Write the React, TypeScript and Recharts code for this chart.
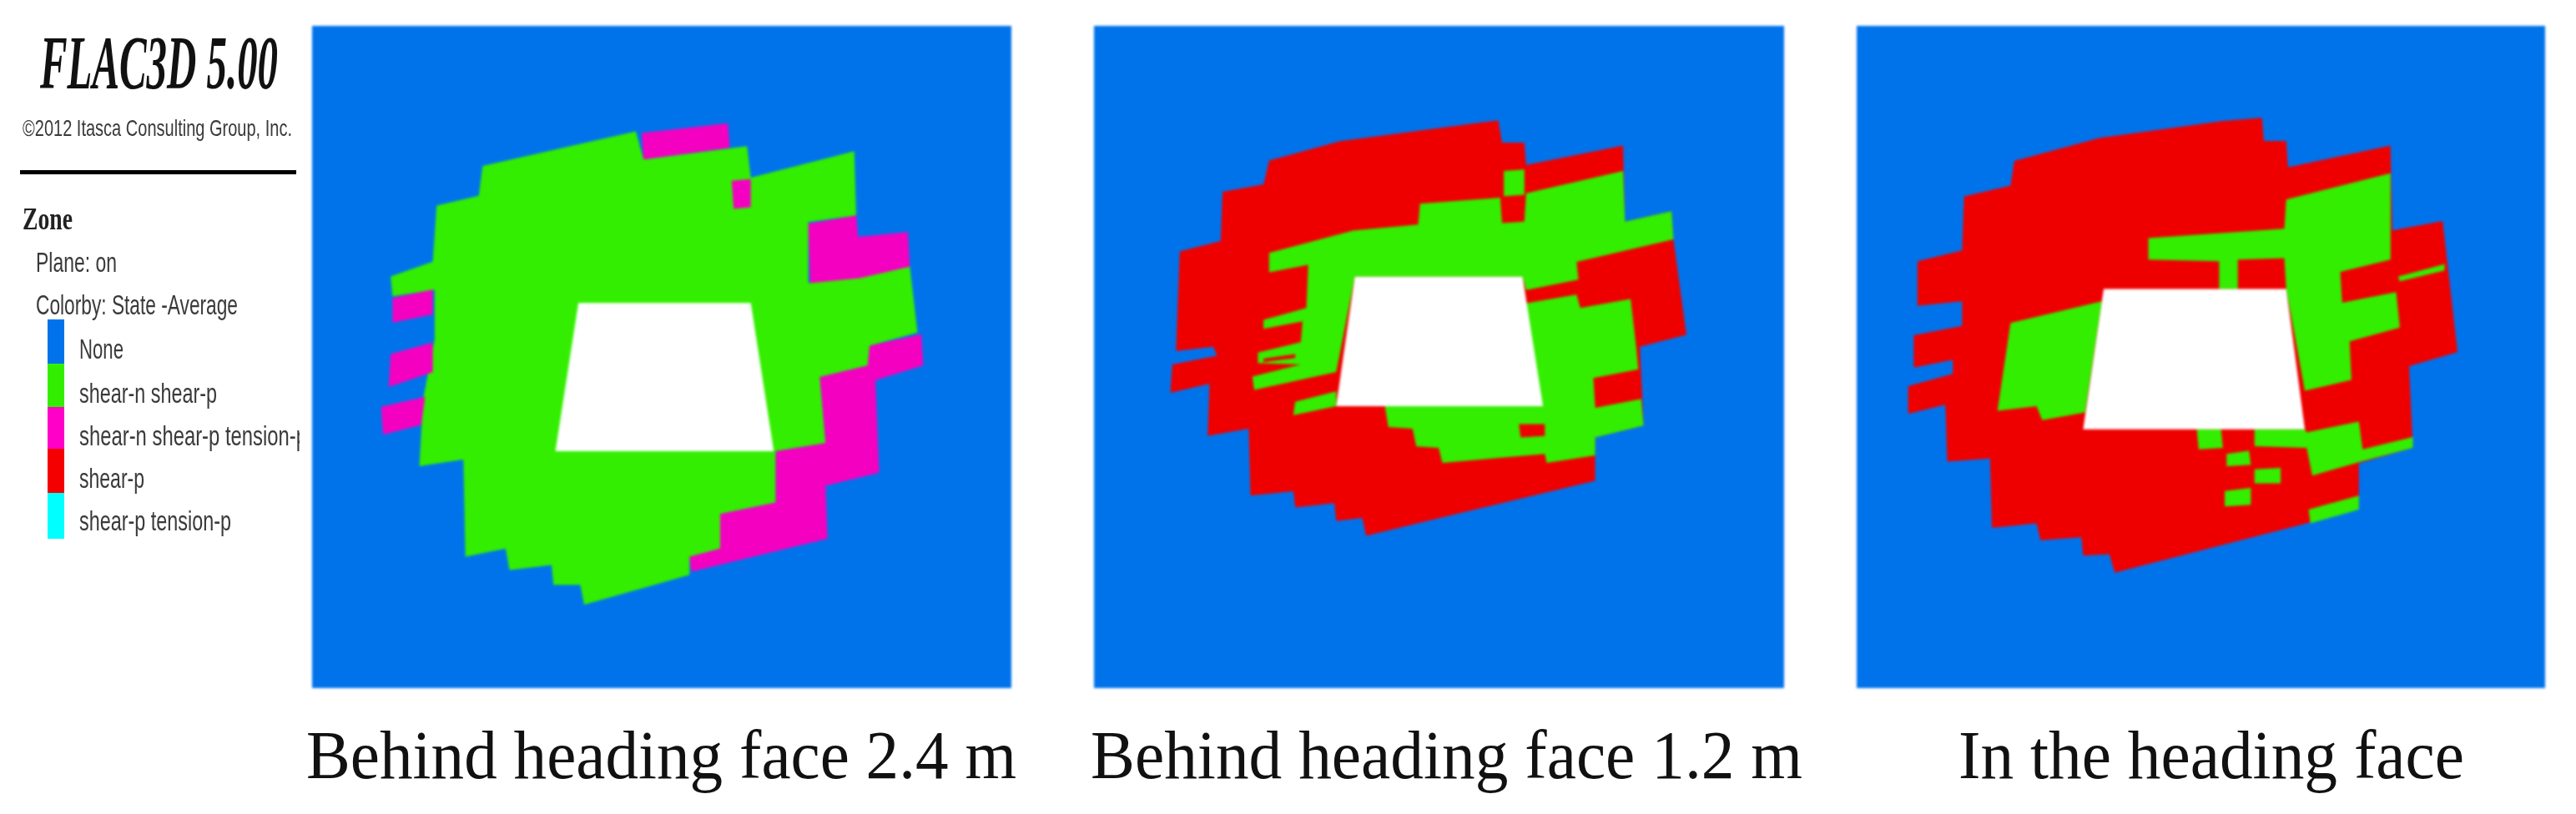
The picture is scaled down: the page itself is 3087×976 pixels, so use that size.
import React from 'react';
import { ScatterChart, Scatter, XAxis, YAxis } from 'recharts';

type Pt = [number, number];
type Layer = { fill: string; pts: Pt[] };

const NONE = '#0073EB';
const GREEN = '#33EE00';
const MAGENTA = '#F400C0';
const RED = '#EE0000';
const CYAN = '#00FFFF';
const VOID = '#FFFFFF';

// Panel 1: behind heading face 2.4 m
const p1Body: Pt[] = [[345,175],[745,70],[765,155],[1035,115],[1045,210],[1315,130],[1320,325],[1195,345],[1195,530],[1460,480],[1480,680],[1355,720],[1350,780],[1225,815],[1240,1015],[1110,1040],[1110,1195],[965,1230],[965,1335],[885,1360],[885,1415],[610,1505],[600,1445],[530,1445],[525,1385],[415,1400],[405,1335],[300,1360],[295,1065],[180,1085],[190,880],[220,700],[220,550],[110,570],[105,510],[215,465],[225,295],[335,265]];
const p1Tens1: Pt[] = [[760,75],[985,45],[990,120],[765,155]];
const p1Tens2: Pt[] = [[995,220],[1045,215],[1045,300],[1000,305]];
const p1Tens3: Pt[] = [[1195,350],[1320,325],[1325,390],[1455,375],[1460,480],[1330,515],[1200,530]];
const p1Tens4: Pt[] = [[1355,720],[1490,685],[1495,780],[1370,825],[1380,1105],[1240,1145],[1245,1305],[890,1405],[885,1360],[965,1335],[965,1230],[1110,1195],[1110,1040],[1240,1015],[1225,815],[1350,780]];
const p1Tens5: Pt[] = [[110,575],[215,550],[215,625],[110,650]];
const p1Tens6: Pt[] = [[105,745],[215,710],[215,800],[100,845]];
const p1Tens7: Pt[] = [[80,905],[195,875],[185,960],[85,990]];
const p1Hole: Pt[] = [[595,590],[1045,590],[1105,1040],[535,1040]];

// Panel 2: behind heading face 1.2 m
const p2Body: Pt[] = [[315,175],[505,110],[930,40],[940,115],[1000,115],[1005,190],[1265,125],[1270,380],[1395,345],[1400,440],[1435,760],[1310,800],[1320,1065],[1190,1105],[1190,1250],[575,1435],[565,1375],[495,1385],[490,1325],[385,1340],[380,1285],[265,1300],[260,1075],[150,1100],[155,925],[50,955],[55,860],[175,830],[165,800],[65,815],[75,480],[185,445],[190,280],[300,255]];
const p2ShearA: Pt[] = [[315,485],[540,410],[715,390],[720,320],[935,300],[940,385],[1000,380],[1005,285],[1265,210],[1270,380],[1395,345],[1400,440],[1140,515],[1145,575],[1005,610],[995,565],[545,565],[495,885],[275,945],[270,900],[400,860],[285,855],[285,820],[400,785],[405,715],[300,740],[300,710],[415,670],[420,525],[315,550]];
const p2ShearB: Pt[] = [[385,985],[495,950],[495,1000],[380,1030]];
const p2ShearC: Pt[] = [[1000,655],[1140,625],[1150,670],[1285,640],[1300,800],[1320,1065],[1190,1105],[1190,1165],[1060,1190],[1055,1160],[780,1190],[770,1140],[710,1135],[700,1075],[635,1070],[625,995],[1045,995]];
const p2ShearD: Pt[] = [[945,210],[1000,205],[1000,290],[945,295]];
const p2Red1: Pt[] = [[1185,905],[1310,875],[1315,975],[1190,1005]];
const p2Red2: Pt[] = [[985,1060],[1055,1060],[1055,1100],[990,1105]];
const p2Red3: Pt[] = [[300,840],[385,825],[385,838],[300,852]];
const p2Hole: Pt[] = [[545,565],[995,565],[1050,1000],[495,1000]];

// Panel 3: in the heading face
const p3Body: Pt[] = [[300,170],[530,95],[860,40],[965,30],[970,105],[1030,105],[1035,190],[1310,120],[1315,395],[1450,365],[1490,790],[1360,835],[1370,1100],[1225,1150],[1225,1290],[1085,1345],[570,1505],[555,1445],[485,1450],[480,1390],[370,1400],[360,1345],[240,1360],[235,1135],[120,1145],[115,960],[15,990],[15,900],[135,860],[135,815],[30,840],[30,735],[160,705],[160,625],[40,640],[40,495],[160,460],[165,285],[290,250]];
const p3ShearA: Pt[] = [[660,420],[1025,390],[1030,295],[1310,210],[1310,490],[1175,530],[1180,630],[1325,595],[1335,710],[1200,755],[1205,880],[1080,915],[1030,585],[1025,485],[900,490],[900,585],[850,585],[850,495],[660,490]];
const p3ShearB: Pt[] = [[1330,545],[1455,505],[1455,525],[1335,560]];
const p3ShearC: Pt[] = [[290,695],[535,625],[490,985],[375,1010],[360,965],[255,980]];
const p3ShearD: Pt[] = [[790,1040],[855,1040],[860,1100],[795,1105]];
const p3ShearE: Pt[] = [[945,1040],[1080,1040],[1085,1050],[1225,1015],[1235,1105],[1370,1065],[1370,1100],[1230,1145],[1100,1190],[1085,1100],[945,1095]];
const p3ShearF: Pt[] = [[870,1120],[930,1110],[935,1155],[870,1160]];
const p3ShearG: Pt[] = [[945,1170],[1015,1165],[1015,1215],[945,1215]];
const p3ShearH: Pt[] = [[865,1240],[935,1230],[935,1285],[865,1290]];
const p3ShearI: Pt[] = [[1090,1300],[1225,1255],[1225,1300],[1095,1345]];
const p3Hole: Pt[] = [[540,585],[1030,585],[1080,1040],[485,1040]];

const legendLabels = ['None', 'shear-n shear-p', 'shear-n shear-p tension-p', 'shear-p', 'shear-p tension-p'];
const legendColors = [NONE, GREEN, '#FF00C8', '#F40000', CYAN];
const captions = ['Behind heading face 2.4 m', 'Behind heading face 1.2 m', 'In the heading face'];

const panels = [
  { left: 374, width: 838, xd: [-100, 1725], yd: [-250, 1758], capX: 367, capW: 851, caption: captions[0],
    layers: [
      { fill: GREEN, pts: p1Body }, { fill: MAGENTA, pts: p1Tens1 }, { fill: MAGENTA, pts: p1Tens2 },
      { fill: MAGENTA, pts: p1Tens3 }, { fill: MAGENTA, pts: p1Tens4 }, { fill: MAGENTA, pts: p1Tens5 },
      { fill: MAGENTA, pts: p1Tens6 }, { fill: MAGENTA, pts: p1Tens7 }, { fill: VOID, pts: p1Hole },
    ] as Layer[] },
  { left: 1311, width: 827, xd: [-155, 1697], yd: [-277, 1946], capX: 1307, capW: 853, caption: captions[1],
    layers: [
      { fill: RED, pts: p2Body }, { fill: GREEN, pts: p2ShearA }, { fill: GREEN, pts: p2ShearB },
      { fill: GREEN, pts: p2ShearC }, { fill: GREEN, pts: p2ShearD }, { fill: RED, pts: p2Red1 },
      { fill: RED, pts: p2Red2 }, { fill: RED, pts: p2Red3 }, { fill: VOID, pts: p2Hole },
    ] as Layer[] },
  { left: 2225, width: 825, xd: [-123, 1725], yd: [-268, 1879], capX: 2347, capW: 606, caption: captions[2],
    layers: [
      { fill: RED, pts: p3Body }, { fill: GREEN, pts: p3ShearA }, { fill: GREEN, pts: p3ShearB },
      { fill: GREEN, pts: p3ShearC }, { fill: GREEN, pts: p3ShearD }, { fill: GREEN, pts: p3ShearE },
      { fill: GREEN, pts: p3ShearF }, { fill: GREEN, pts: p3ShearG }, { fill: GREEN, pts: p3ShearH },
      { fill: GREEN, pts: p3ShearI }, { fill: VOID, pts: p3Hole },
    ] as Layer[] },
];

const toRows = (pts: Pt[]) => pts.map(([x, y]) => ({ x, y }));
const NoDot = () => <g />;

function Panel({ p }: { p: (typeof panels)[number] }) {
  const [x0, x1] = p.xd;
  const [y0, y1] = p.yd;
  const frame: Pt[] = [[x0, y0], [x1, y0], [x1, y1], [x0, y1]];
  const all: Layer[] = [{ fill: NONE, pts: frame }, ...p.layers];
  return (
    <div style={{ position: 'absolute', left: p.left, top: 31, filter: 'blur(1.5px)' }}>
      <ScatterChart width={p.width} height={794} margin={{ top: 0, right: 0, bottom: 0, left: 0 }}>
        <XAxis type="number" dataKey="x" domain={p.xd} hide allowDataOverflow />
        <YAxis type="number" dataKey="y" domain={p.yd} reversed hide allowDataOverflow />
        {all.map((l, i) => (
          <Scatter
            key={i}
            data={toRows(l.pts)}
            isAnimationActive={false}
            fill={l.fill}
            shape={NoDot}
            line={{ fill: l.fill, stroke: 'none' }}
          />
        ))}
      </ScatterChart>
    </div>
  );
}

const sans = '"Liberation Sans", Arial, sans-serif';
const serif = '"Liberation Serif", "Times New Roman", serif';
const INK = '#3A3A3A';

const legendRows = [
  { end: 148, base: 430, top: 383, bottom: 436 },
  { end: 260, base: 483, top: 436, bottom: 488 },
  { end: 368, base: 534, top: 488, bottom: 538 },
  { end: 173, base: 585, top: 538, bottom: 591 },
  { end: 277, base: 636, top: 591, bottom: 646 },
];

function Notes() {
  return (
    <svg width={3087} height={976} style={{ position: 'absolute', left: 0, top: 0, filter: 'blur(0.7px)' }}>
      <defs>
        <clipPath id="legendClip"><rect x={0} y={0} width={359} height={976} /></clipPath>
      </defs>
      <text x={48} y={106} fontFamily={serif} fontStyle="italic" fontWeight={700} fontSize={92} fill="#111" textLength={285} lengthAdjust="spacingAndGlyphs">FLAC3D 5.00</text>
      <text x={27} y={163} fontFamily={sans} fontSize={28} fill={INK} textLength={323} lengthAdjust="spacingAndGlyphs">©2012 Itasca Consulting Group, Inc.</text>
      <rect x={24} y={204} width={331} height={5} fill="#000" />
      <text x={27} y={275} fontFamily={serif} fontWeight={700} fontSize={38} fill="#222" textLength={60} lengthAdjust="spacingAndGlyphs">Zone</text>
      <text x={43} y={326} fontFamily={sans} fontSize={33} fill={INK} textLength={97} lengthAdjust="spacingAndGlyphs">Plane: on</text>
      <text x={43} y={377} fontFamily={sans} fontSize={33} fill={INK} textLength={242} lengthAdjust="spacingAndGlyphs">Colorby: State  -Average</text>
      {legendRows.map((r, i) => (
        <g key={i}>
          <rect x={57} y={r.top} width={20} height={r.bottom - r.top} fill={legendColors[i]} />
          <text x={95} y={r.base} fontFamily={sans} fontSize={33} fill={INK} clipPath="url(#legendClip)" textLength={r.end - 95} lengthAdjust="spacingAndGlyphs">{legendLabels[i]}</text>
        </g>
      ))}
      {panels.map((p, i) => (
        <text key={i} x={p.capX} y={933} fontFamily={serif} fontSize={83} fill="#111" textLength={p.capW} lengthAdjust="spacingAndGlyphs">{p.caption}</text>
      ))}
    </svg>
  );
}

export default function App() {
  return (
    <div style={{ position: 'absolute', left: 0, top: 0, width: 3087, height: 976, background: '#fff', overflow: 'hidden' }}>
      {panels.map((p, i) => <Panel key={i} p={p} />)}
      <Notes />
    </div>
  );
}
